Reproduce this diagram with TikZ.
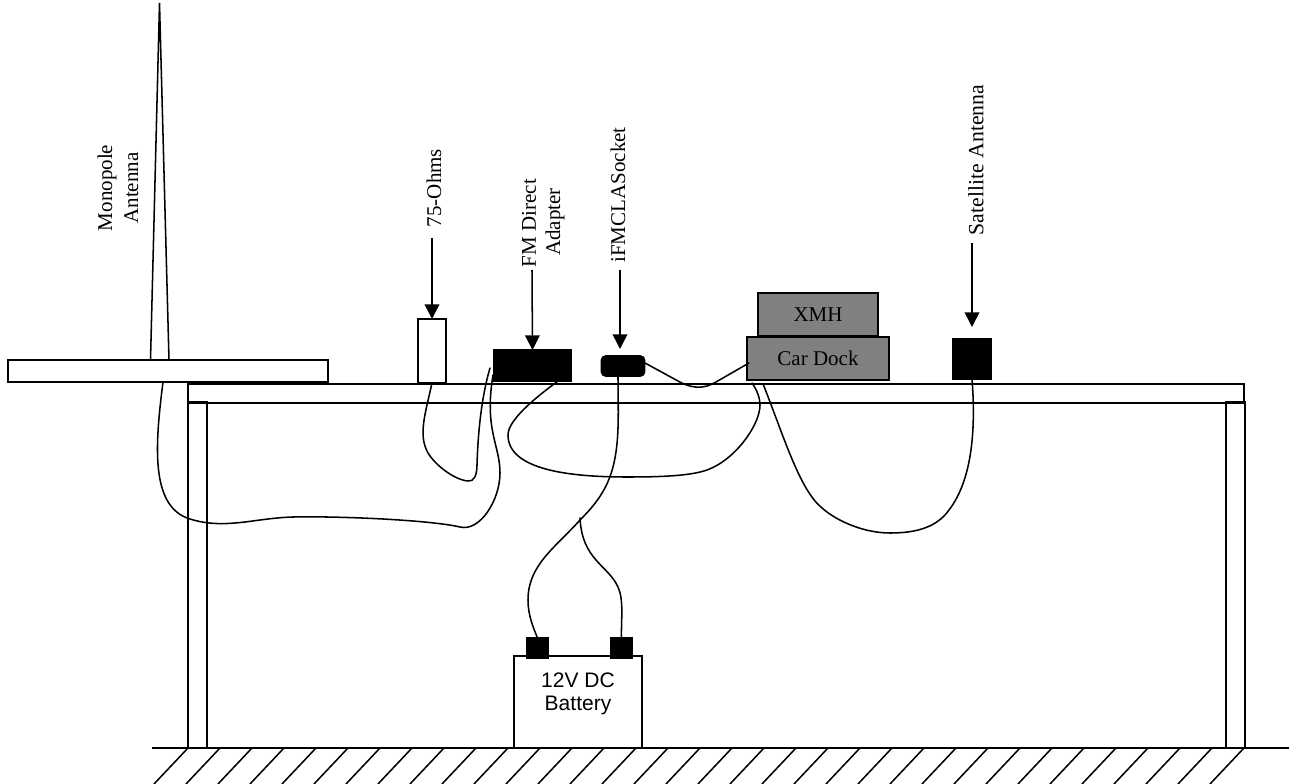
\documentclass[tikz,border=0pt]{standalone}
\usepackage{fontspec}
\setmainfont{Liberation Serif}
\newfontfamily\arialf{Liberation Sans}
\usetikzlibrary{arrows.meta}
\tikzset{
  x=0.75pt,y=-0.75pt,
  every path/.style={line width=1.15pt},
  whitebox/.style={draw=black,fill=white,inner sep=0pt,outer sep=0pt},
  blackbox/.style={draw=black,fill=black,inner sep=0pt,outer sep=0pt},
  graybox/.style={draw=black,fill=gray,inner sep=0pt,outer sep=0pt,font=\fontsize{15.75}{18}\selectfont,text=black},
  vlabel/.style={rotate=90,inner sep=0pt,align=center,font=\fontsize{15.75}{19.5}\selectfont},
  callout/.style={-{Triangle[length=11pt,width=11pt]}},
  wire/.style={line cap=round}
}
\begin{document}
\begin{tikzpicture}
\useasboundingbox (0,0) rectangle (1289,784);
% ground
\coordinate (gl) at (152,748); \coordinate (gr) at (1289,748);
\draw (gl) -- (gr);
\foreach \k in {0,...,33}{\draw (188+32*\k,748) -- (154+32*\k,784);}
% table
\node[whitebox,minimum width=19*0.75pt,minimum height=346*0.75pt] (legL) at (197.5,575) {};
\node[whitebox,minimum width=19*0.75pt,minimum height=346*0.75pt] (legR) at (1235.5,575) {};
\node[whitebox,fill=none,minimum width=1056*0.75pt,minimum height=19*0.75pt] (top) at (716,393.5) {};
% antenna
\node[whitebox,minimum width=320*0.75pt,minimum height=22*0.75pt] (plate) at (168,371) {};
\coordinate (apex) at (159.5,3); \coordinate (baseL) at (150.5,360); \coordinate (baseR) at (169,360);
\draw (baseL) -- (apex) -- (baseR);
\node[vlabel] (mono) at (118,188) {Monopole\\Antenna};
% 75 ohms
\node[whitebox,minimum width=28*0.75pt,minimum height=64*0.75pt] (ohm) at (432,351) {};
\node[vlabel] (ohml) at (434,188) {75-Ohms};
\coordinate (a1) at (432,238);
\draw[callout] (a1) -- (ohm.north);
% FM adapter
\node[blackbox,minimum width=77*0.75pt,minimum height=31*0.75pt] (fm) at (532.5,365.5) {};
\node[vlabel] (fml) at (529,223) {FM Direct};
\node[vlabel] (fml2) at (555,222) {Adapter};
\coordinate (a2) at (532,270);
\draw[callout] (a2) -- (fm.north);
% socket
\node[blackbox,rounded corners=3pt,minimum width=43*0.75pt,minimum height=20*0.75pt] (sock) at (623,366) {};
\node[vlabel] (sockl) at (618,195) {iFMCLASocket};
\coordinate (a3) at (620,270); \coordinate (a3e) at (620,349);
\draw[callout] (a3) -- (a3e);
% dock
\node[graybox,minimum width=142*0.75pt,minimum height=43*0.75pt] (dock) at (818,358.5) {\raisebox{-1pt}{Car Dock}};
\node[graybox,minimum width=120*0.75pt,minimum height=43*0.75pt] (xmh) at (818,314.5) {\raisebox{-1pt}{XMH}};
% satellite
\node[blackbox,minimum width=38*0.75pt,minimum height=40*0.75pt] (sat) at (972,359) {};
\node[vlabel,font=\fontsize{16.3}{19.5}\selectfont] (satl) at (976,160) {Satellite Antenna};
\coordinate (a4) at (972,243); \coordinate (a4e) at (972,327);
\draw[callout] (a4) -- (a4e);
% battery
\node[whitebox,minimum width=128*0.75pt,minimum height=92*0.75pt] (bat) at (578,702) {};
\node[inner sep=0pt,align=center,font=\arialf\fontsize{15.75}{17.25}\selectfont] (batl) at (578,694) {12V DC\\Battery};
\node[blackbox,minimum width=21*0.75pt,minimum height=20*0.75pt] (tL) at (537.5,648) {};
\node[blackbox,minimum width=21*0.75pt,minimum height=20*0.75pt] (tR) at (621.5,648) {};
% wire ends
\coordinate (w1a) at (163,382); \coordinate (w1b) at (493,375);
\coordinate (w2b) at (490,368);
\coordinate (w3a) at (558,381); \coordinate (w3b) at (752,383);
\coordinate (w4a) at (618,376);
\coordinate (w5a) at (580,518);
\coordinate (w6a) at (972,379); \coordinate (w6b) at (763.5,385);
\coordinate (w7a) at (645,363); \coordinate (w7b) at (749,363);
% wires
\draw[wire] (w1a) .. controls (155,445) and (150,507) .. (190,519)
  .. controls (225,530) and (255,518) .. (293,517)
  .. controls (340,516) and (430,520) .. (460,527)
  .. controls (480,532) and (500,500) .. (500,473)
  .. controls (500,445) and (484,430) .. (w1b);
\draw[wire] (ohm.south) .. controls (425,415) and (418,435) .. (428,453)
  .. controls (436,466) and (455,480) .. (468,481)
  .. controls (474,482) and (477,475) .. (477,465)
  .. controls (478,430) and (482,395) .. (w2b);
\draw[wire] (w3a) .. controls (535,398) and (508,420) .. (508,435)
  .. controls (508,470) and (570,477) .. (627,477)
  .. controls (660,477) and (690,476) .. (707,470)
  .. controls (735,460) and (760,425) .. (760,405)
  .. controls (760,398) and (757,390) .. (w3b);
\draw[wire] (w4a) .. controls (618,410) and (620,440) .. (613,467)
  .. controls (607,490) and (595,505) .. (580,520)
  .. controls (555,548) and (528,565) .. (528,600)
  .. controls (528,615) and (533,627) .. (tL.north);
\draw[wire] (w5a) .. controls (582,560) and (608,565) .. (618,587)
  .. controls (624,600) and (621,620) .. (tR.north);
\draw[wire] (w6a) .. controls (976,430) and (972,480) .. (949,510)
  .. controls (935,530) and (910,533) .. (890,533)
  .. controls (865,533) and (838,522) .. (822,508)
  .. controls (800,490) and (785,440) .. (w6b);
\draw[wire] (w7a) -- (678,381) .. controls (690,388) and (703,390) .. (716,382) -- (w7b);
\end{tikzpicture}
\end{document}
